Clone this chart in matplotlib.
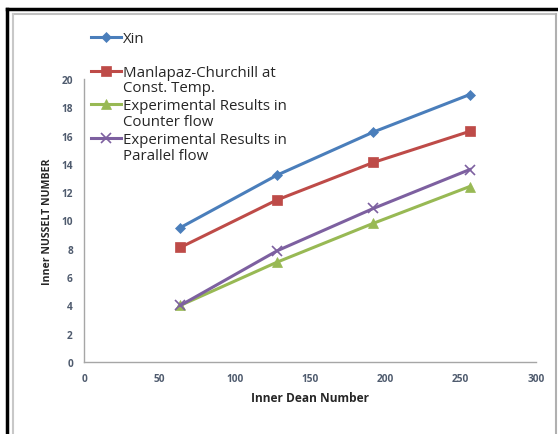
import matplotlib
matplotlib.use("Agg")
import matplotlib.pyplot as plt
from matplotlib.lines import Line2D

# Inner Dean number at each measurement point
dean = [64, 128, 192, 256]

# Inner Nusselt number for each correlation / experiment
xin = [9.5, 13.2, 16.25, 18.9]
manlapaz = [8.1, 11.45, 14.1, 16.3]
counter_flow = [4.0, 7.05, 9.8, 12.4]
parallel_flow = [4.0, 7.85, 10.85, 13.6]

# Legend entries: first line sits next to the marker, second line wraps below
label_first = ["Xin",
               "Manlapaz-Churchill at",
               "Experimental Results in",
               "Experimental Results in"]
label_second = ["", "Const. Temp.", "Counter flow", "Parallel flow"]

x_ticks = [0, 50, 100, 150, 200, 250, 300]
y_ticks = [0, 2, 4, 6, 8, 10, 12, 14, 16, 18, 20]

plt.rcParams["font.family"] = ["Open Sans", "DejaVu Sans"]

W, H = 558, 435
fig = plt.figure(figsize=(W / 100, H / 100), dpi=100)
ax = fig.add_axes([84 / W, 1 - 363 / H, (536 - 84) / W, (363 - 80) / H])

series = [
    (xin, "#4a7ebb", "D", 5),
    (manlapaz, "#be4b48", "s", 7),
    (counter_flow, "#98b954", "^", 7),
    (parallel_flow, "#7d60a0", "x", 7),
]
handles = []
for vals, col, mk, ms in series:
    (ln,) = ax.plot(dean, vals, color=col, lw=2.2, marker=mk, markersize=ms,
                    markeredgewidth=1.2 if mk == "x" else 0.5,
                    markeredgecolor=col, markerfacecolor=col)
    handles.append(ln)

ax.set_xlim(0, 300)
ax.set_ylim(0, 20)
ax.set_xticks(x_ticks)
ax.set_yticks(y_ticks)
ax.tick_params(length=0, labelsize=7.3, labelcolor="#4f5b6e", pad=8)
for lab in ax.get_xticklabels() + ax.get_yticklabels():
    lab.set_fontweight("bold")
for side in ("top", "right"):
    ax.spines[side].set_visible(False)
for side in ("left", "bottom"):
    ax.spines[side].set_color("#a6a6a6")
    ax.spines[side].set_linewidth(1.0)

ax.set_xlabel("Inner Dean Number", fontsize=8.6, fontweight="bold",
              color="#262626", labelpad=5)
ax.set_ylabel("Inner NUSSELT NUMBER", fontsize=7.6, fontweight="bold",
              color="#262626", labelpad=6)

leg = fig.legend(handles, label_first, loc="upper left",
                 bbox_to_anchor=(85 / W, 1 - 26 / H),
                 frameon=False, fontsize=10.8, handlelength=2.0,
                 handletextpad=0.15, labelspacing=1.25, borderaxespad=0)
for t in leg.get_texts():
    t.set_color("#262626")

# Wrapped continuation lines placed under the matching legend text
fig.canvas.draw()
renderer = fig.canvas.get_renderer()
for t, extra in zip(leg.get_texts(), label_second):
    if not extra:
        continue
    bb = t.get_window_extent(renderer)
    fig.text(bb.x0 / W, (bb.y0 - 15.5) / H, extra, fontsize=10.8,
             color="#262626", ha="left", va="bottom")

# Outer page frame and chart-area border
fig.add_artist(Line2D([6.5 / W, 1], [1 - 9.5 / H] * 2,
                      transform=fig.transFigure, color="black", lw=2.5))
fig.add_artist(Line2D([6.5 / W] * 2, [0, 1 - 9.5 / H],
                      transform=fig.transFigure, color="black", lw=2.5))
fig.add_artist(Line2D([12.5 / W, 556 / W], [1 - 14.5 / H] * 2,
                      transform=fig.transFigure, color="#c0c0c0", lw=1.5))
fig.add_artist(Line2D([12.5 / W] * 2, [0, 1 - 14.5 / H],
                      transform=fig.transFigure, color="#c8c8c8", lw=1.5))
fig.add_artist(Line2D([556 / W] * 2, [0, 1 - 14.5 / H],
                      transform=fig.transFigure, color="#b0b0b0", lw=1.5))

fig.savefig("out.png", dpi=100)
